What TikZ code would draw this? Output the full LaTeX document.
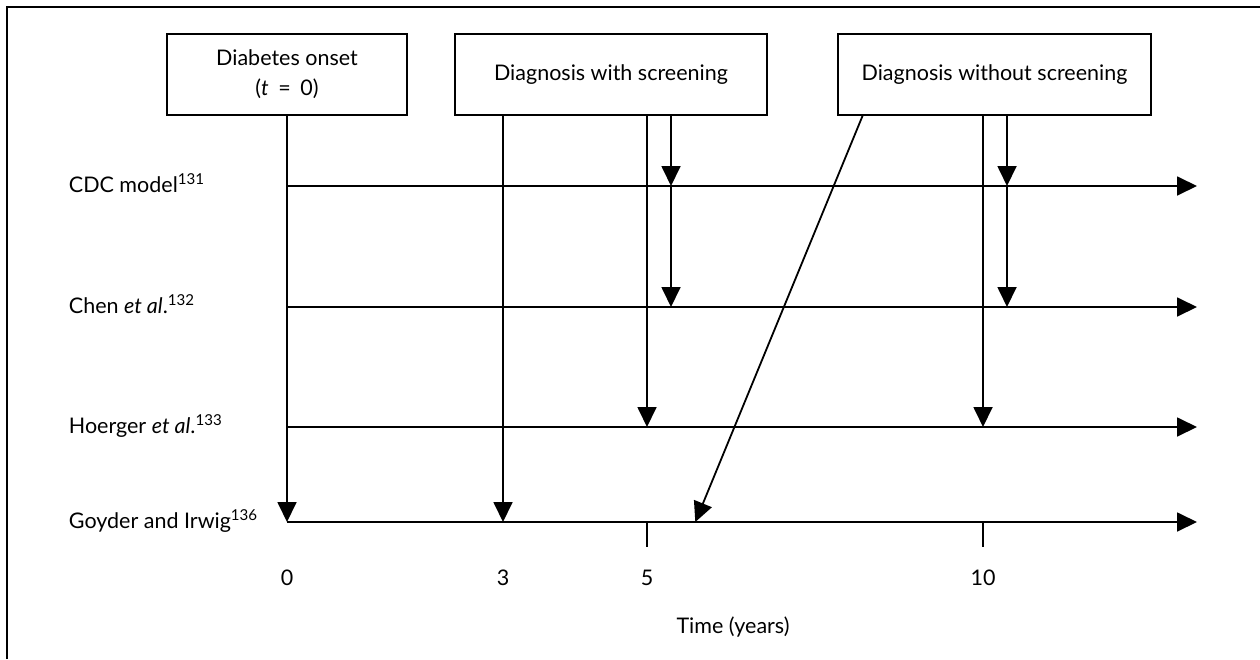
\documentclass[tikz,border=0pt]{standalone}
\usepackage{fontspec}
\setmainfont{Lato}
\usetikzlibrary{arrows.meta,calc}
\begin{document}
\begin{tikzpicture}[x=1pt,y=-1pt,line width=1.8pt,
  txt/.style={font=\fontsize{21.5}{30}\selectfont},
  box/.style={draw,txt,line width=1.6pt,inner sep=0pt,minimum height=81pt,align=center},
  arr/.style={-{Triangle[length=20pt,width=19pt]}},
  lbl/.style={txt,anchor=base west,inner sep=0pt},
  num/.style={txt,anchor=base,inner sep=0pt}]
\useasboundingbox (0,0) rectangle (1260,659);
\draw[line width=1.6pt] (7,659) -- (7,7) -- (1260,7);
% boxes
\node[box,minimum width=240pt] (b1) at (287,74.5) {Diabetes onset\\(\textit{t}\hspace{0.45em}=\hspace{0.45em}0)};
\node[box,minimum width=312pt] (b2) at (611,74.5) {Diagnosis with screening};
\node[box,minimum width=313pt] (b3) at (994.5,74.5) {Diagnosis without screening};
% time positions
\coordinate (p0) at (287,0);
\coordinate (p3) at (503,0);
\coordinate (p5) at (647,0);
\coordinate (p5b) at (671,0);
\coordinate (p10) at (983,0);
\coordinate (p10b) at (1007,0);
% timelines
\coordinate (cdcS) at (287,186);   \coordinate (cdcE) at (1197,186);
\coordinate (chenS) at (287,307); \coordinate (chenE) at (1197,307);
\coordinate (hoeS) at (287,427); \coordinate (hoeE) at (1197,427);
\coordinate (goyS) at (287,522);   \coordinate (goyE) at (1197,522);
\draw[arr] (cdcS) -- (cdcE);
\draw[arr] (chenS) -- (chenE);
\draw[arr] (hoeS) -- (hoeE);
\draw[arr] (goyS) -- (goyE);
% labels
\node[lbl] (lcdc) at (68,192) {CDC model\textsuperscript{131}};
\node[lbl] (lchen) at (68,313) {Chen \textit{et al}.\textsuperscript{132}};
\node[lbl] (lhoe) at (68,433) {Hoerger \textit{et al}.\textsuperscript{133}};
\node[lbl] (lgoy) at (68,528) {Goyder and Irwig\textsuperscript{136}};
% onset arrow
\draw[arr] (b1.south) -- (goyS);
% with screening
\draw[arr] (b2.south -| p3) -- (goyS -| p3);
\draw[arr] (b2.south -| p5) -- (hoeS -| p5);
\draw[arr] (b2.south -| p5b) -- (cdcS -| p5b);
\draw[arr] (cdcS -| p5b) -- (chenS -| p5b);
% without screening
\draw[arr] (b3.south -| p10) -- (hoeS -| p10);
\draw[arr] (b3.south -| p10b) -- (cdcS -| p10b);
\draw[arr] (cdcS -| p10b) -- (chenS -| p10b);
\coordinate (dtop) at (862.7,115.5);
\coordinate (dbot) at (695.3,522);
\draw[arr] (dtop) -- (dbot);
% ticks
\coordinate (t5) at (647,546.7);
\coordinate (t10) at (983,546.7);
\draw (goyS -| p5) -- (t5);
\draw (goyS -| p10) -- (t10);
% numbers
\node[num] (n0) at (287,585) {0};
\node[num] (n3) at (503,585) {3};
\node[num] (n5) at (647,585) {5};
\node[num] (n10) at (983,585) {10};
\node[num] (xl) at (733,633) {Time (years)};
\end{tikzpicture}
\end{document}
